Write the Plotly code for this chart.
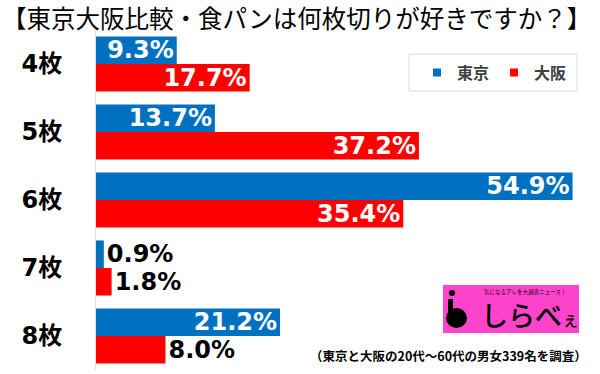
import plotly.graph_objects as go

categories = ["4枚", "5枚", "6枚", "7枚", "8枚"]
tokyo = [9.3, 13.7, 54.9, 0.9, 21.2]
osaka = [17.7, 37.2, 35.4, 1.8, 8.0]
series_names = ["東京", "大阪"]
title_text = "【東京大阪比較・食パンは何枚切りが好きですか？】"
note_text = "（東京と大阪の20代～60代の男女339名を調査）"

BLUE = "#0070C0"
RED = "#FF0000"
W, H = 600, 374
ML, MR, MT, MB = 96, 0, 30, 4
PW, PH = W - ML - MR, H - MT - MB


def px(x, y):
    return (x - ML) / PW, 1 - (y - MT) / PH


def positions(vals):
    # label inside the bar when the bar is wide enough for it
    return ["inside" if v * PW / 58.06 > 75 else "outside" for v in vals]


NUM_FONT = "DejaVu Sans, Noto Sans CJK JP"

fig = go.Figure()
for name, vals, col in [(series_names[0], tokyo, BLUE), (series_names[1], osaka, RED)]:
    fig.add_trace(go.Bar(
        y=categories, x=vals, orientation="h", name=name,
        marker=dict(color=col, line=dict(width=0)),
        text=[f"{v:.1f}%" for v in vals],
        textposition=positions(vals),
        insidetextanchor="end",
        constraintext="none",
        cliponaxis=False,
        insidetextfont=dict(color="white", size=24, family=NUM_FONT, weight="bold"),
        outsidetextfont=dict(color="black", size=24, family=NUM_FONT, weight="bold"),
        showlegend=False,
        hoverinfo="skip",
    ))
    fig.add_trace(go.Scatter(
        x=[None], y=[None], mode="markers", name=name,
        marker=dict(symbol="square", size=8, color=col),
    ))

fig.update_layout(
    width=W, height=H,
    margin=dict(l=ML, r=MR, t=MT, b=MB, pad=0),
    paper_bgcolor="white", plot_bgcolor="white",
    barmode="group", bargap=0.19, bargroupgap=0,
    xaxis=dict(visible=False, range=[0, 58.06], fixedrange=True),
    yaxis=dict(autorange=False, range=[4.5, -0.5], type="category", automargin=False,
               showline=True, linecolor="#e0e0e0", linewidth=1, fixedrange=True,
               showgrid=False, ticks="", ticklabelstandoff=28,
               tickfont=dict(family=NUM_FONT, size=24, color="black", weight="bold")),
    legend=dict(orientation="h", x=px(417, 0)[0], xanchor="left",
                y=px(0, 72.5)[1], yanchor="middle",
                bgcolor="rgba(0,0,0,0)", borderwidth=0,
                font=dict(family="Noto Sans CJK JP", size=16, color="#404040", weight="bold"),
                itemclick=False, itemdoubleclick=False),
    showlegend=True,
)

shapes = []
x0, y0 = px(409, 54)
x1, y1 = px(577, 91)
shapes.append(dict(type="rect", xref="paper", yref="paper", x0=x0, y0=y0, x1=x1, y1=y1,
                   line=dict(color="#d9d9d9", width=1), fillcolor="white", layer="below"))
# logo
lx0, ly0 = px(443, 285)
lx1, ly1 = px(579, 333)
shapes.append(dict(type="rect", xref="paper", yref="paper", x0=lx0, y0=ly0, x1=lx1, y1=ly1,
                   line=dict(width=0), fillcolor="#FF44CC", layer="above"))
cx0, cy0 = px(449, 290)
cx1, cy1 = px(455, 296)
shapes.append(dict(type="circle", xref="paper", yref="paper", x0=cx0, y0=cy0, x1=cx1, y1=cy1,
                   line=dict(width=0), fillcolor="black", layer="above"))
sx0, sy0 = px(448, 299)
sx1, sy1 = px(453, 316)
shapes.append(dict(type="rect", xref="paper", yref="paper", x0=sx0, y0=sy0, x1=sx1, y1=sy1,
                   line=dict(width=0), fillcolor="black", layer="above"))
bx0, by0 = px(446, 308)
bx1, by1 = px(467, 328)
shapes.append(dict(type="circle", xref="paper", yref="paper", x0=bx0, y0=by0, x1=bx1, y1=by1,
                   line=dict(width=0), fillcolor="black", layer="above"))
fig.update_layout(shapes=shapes)

ann = []
ttx, tty = px(0.5, 18)
ann.append(dict(text=title_text, xref="paper", yref="paper", x=ttx, y=tty, showarrow=False,
                xanchor="left", yanchor="middle", borderpad=0,
                font=dict(family="Noto Sans CJK JP", size=24.5, color="black")))
nx, ny = px(448, 355)
ann.append(dict(text=note_text, xref="paper", yref="paper", x=nx, y=ny, showarrow=False,
                xanchor="center", yanchor="middle",
                font=dict(family="Noto Sans CJK JP", size=12.5, color="black", weight="bold")))
tx, ty = px(525, 292)
ann.append(dict(text="気になるアレを大調査ニュース！", xref="paper", yref="paper", x=tx, y=ty,
                showarrow=False, xanchor="center", yanchor="middle",
                font=dict(family="Noto Sans CJK JP", size=5.5, color="black")))
kx, ky = px(530, 314)
ann.append(dict(text="しらべ<span style='font-size:17px'>ぇ</span>", xref="paper", yref="paper",
                x=kx, y=ky, showarrow=False, xanchor="center", yanchor="middle",
                font=dict(family="Noto Sans CJK JP", size=27, color="black", weight=500)))
fig.update_layout(annotations=ann)

fig.write_html("out.html", config={"displayModeBar": False},
               post_script="document.body.style.margin='0';")
